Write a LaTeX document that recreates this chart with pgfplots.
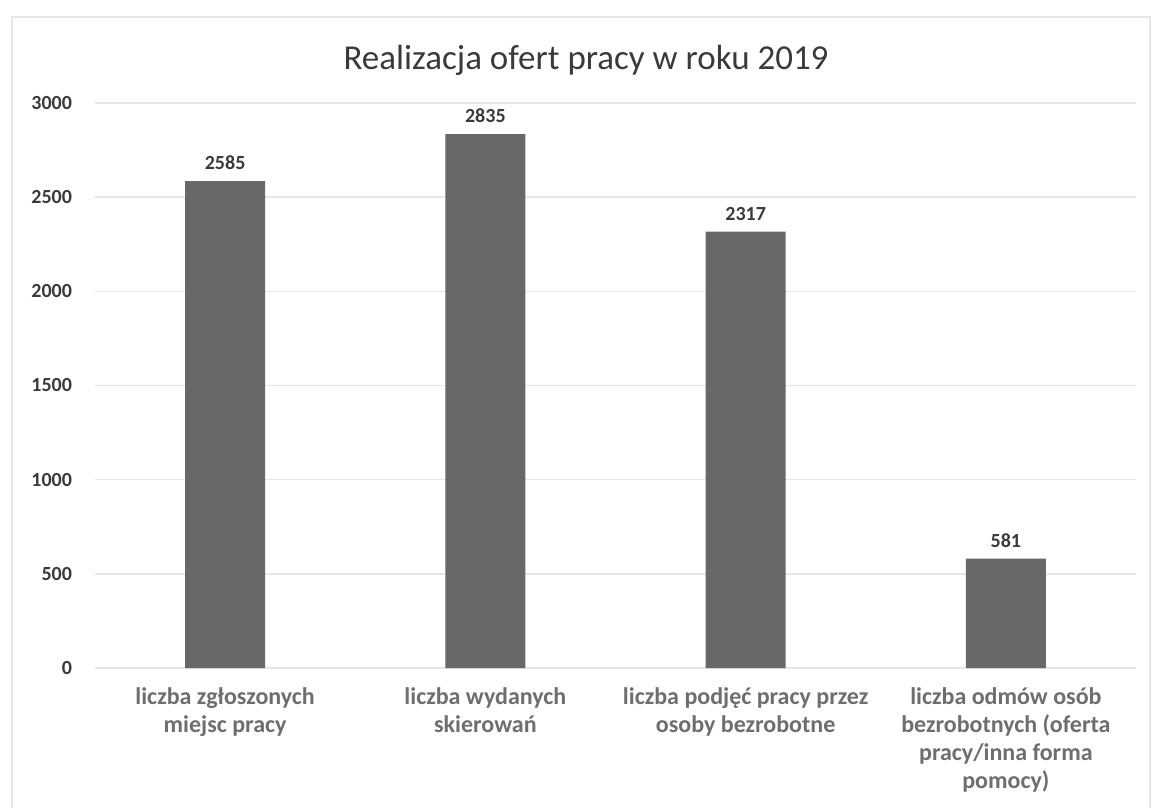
\documentclass[border=0pt]{standalone}
\usepackage{fontspec}
\setmainfont{Carlito}
\usepackage{pgfplots}
\pgfplotsset{compat=1.18}

\definecolor{barcol}{HTML}{686868}
\definecolor{gridcol}{HTML}{E6E6E6}
\definecolor{txtdark}{HTML}{3A3A3A}
\definecolor{txtgray}{HTML}{6E6E6E}

\begin{document}
\begin{tikzpicture}
  % page: 1154 x 807 px at 0.5pt per px
  \fill[white] (0,0) rectangle (577pt,-403.5pt);
  \draw[gridcol, line width=0.8pt] (6pt,-8.5pt) rectangle (575pt,-410pt);
  \node[font=\fontsize{17.5}{20}\selectfont, text=txtdark] at (293pt,-30pt)
    {Realizacja ofert pracy w roku 2019};
  \begin{axis}[
    at={(47.5pt,-334pt)}, anchor=south west,
    scale only axis,
    width=520.5pt, height=282.5pt,
    ybar,
    bar width=40pt,
    ymin=0, ymax=3000,
    xmin=-0.5, xmax=3.5,
    ytick={0,500,...,3000},
    ymajorgrids,
    major grid style={gridcol, line width=0.8pt},
    axis x line*=bottom,
    axis y line*=left,
    x axis line style={gridcol, line width=0.8pt},
    y axis line style={draw=none},
    tick style={draw=none},
    xtick=data,
    xticklabels={{liczba zgłoszonych\\miejsc pracy},
                 {liczba wydanych\\skierowań},
                 {liczba podjęć pracy przez\\osoby bezrobotne},
                 {liczba odmów osób\\bezrobotnych (oferta\\pracy/inna forma\\pomocy)}},
    xticklabel style={align=center, text=txtgray,
      font=\fontsize{12}{14}\selectfont\bfseries, yshift=-2pt},
    yticklabel style={text=txtdark, font=\fontsize{10}{12}\selectfont\bfseries,
      anchor=east, xshift=-8pt},
    /pgf/number format/assume math mode=true,
    /pgf/number format/1000 sep={},
    nodes near coords,
    every node near coord/.append style={text=txtdark,
      font=\fontsize{10}{12}\selectfont\bfseries, yshift=2pt},
  ]
  \addplot[fill=barcol, draw=none] coordinates {(0,2585) (1,2835) (2,2317) (3,581)};
  \end{axis}
  \pgfresetboundingbox
  \path (0,0) rectangle (577pt,-403.5pt);
\end{tikzpicture}
\end{document}
